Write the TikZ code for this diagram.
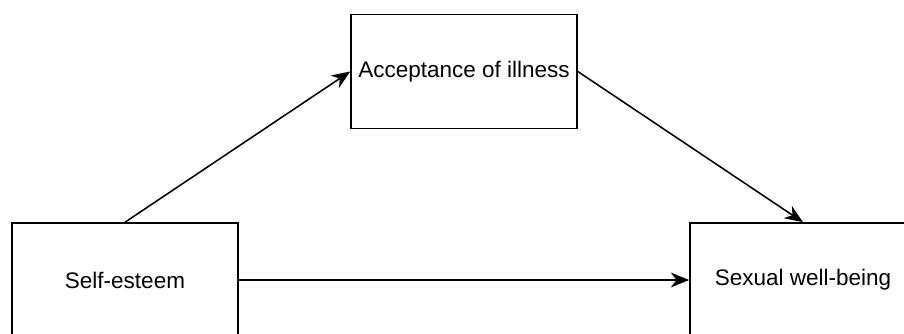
\documentclass[tikz,border=0pt]{standalone}
\usepackage{fontspec}
\setmainfont{Liberation Sans}
\usetikzlibrary{arrows.meta}
\tikzset{
  var/.style={draw, line width=1.1pt, minimum width=5.65cm, minimum height=2.85cm, inner sep=0pt, font=\fontsize{16}{19}\selectfont},
  path/.style={line width=1.1pt, -{Stealth[length=13pt,width=10.5pt,inset=4pt]}}
}
\begin{document}
\begin{tikzpicture}[x=0.025cm, y=-0.025cm]
\useasboundingbox (0,0) rectangle (904,334);
\node[var] (acc) at (464,71.5){Acceptance of illness};
\node[var] (self) at (125,280){Self-esteem};
\node[var] (sex) at (803,280){Sexual well-being};
\draw[path](self.north) -- (acc.west);
\draw[path](acc.east) -- (sex.north);
\draw[path](self.east) -- (sex.west);
\end{tikzpicture}
\end{document}
